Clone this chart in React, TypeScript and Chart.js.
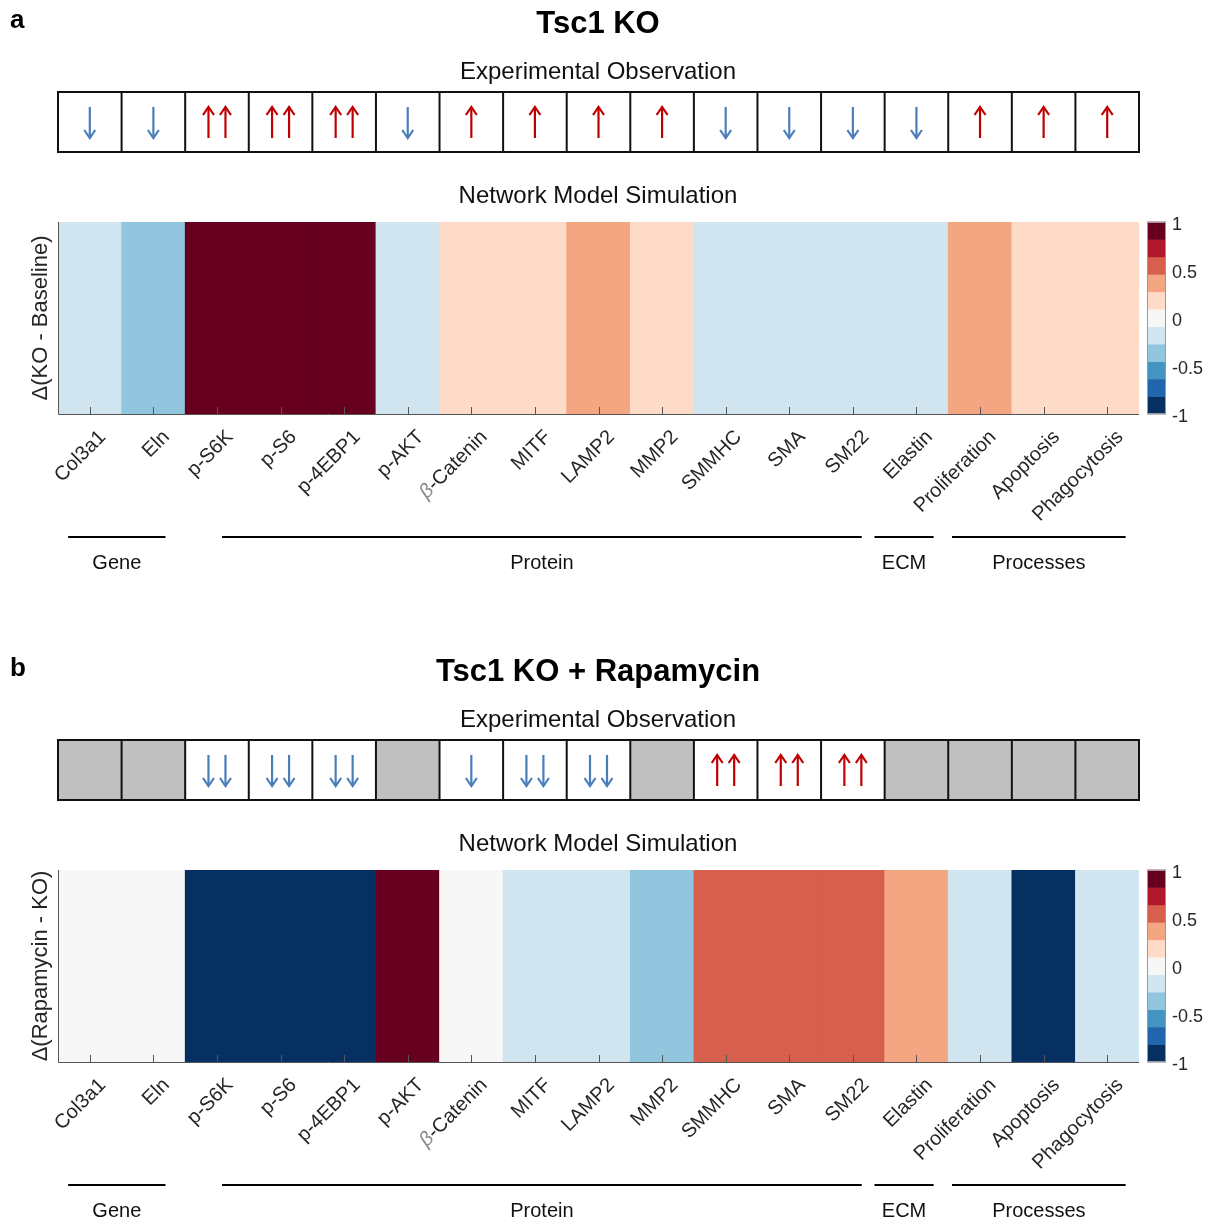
import React, { useEffect, useRef } from "react";
import { Chart, registerables } from "chart.js";

Chart.register(...registerables);

const CATEGORIES = [
  "Col3a1", "Eln", "p-S6K", "p-S6", "p-4EBP1", "p-AKT", "β-Catenin", "MITF", "LAMP2",
  "MMP2", "SMMHC", "SMA", "SM22", "Elastin", "Proliferation", "Apoptosis", "Phagocytosis",
];

// Network model simulation values (delta)
const KO_VALUES = [-0.2, -0.4, 1, 1, 1, -0.2, 0.2, 0.2, 0.4, 0.2, -0.2, -0.2, -0.2, -0.2, 0.4, 0.2, 0.2];
const RAPA_VALUES = [0, 0, -1, -1, -1, 1, 0, -0.2, -0.2, -0.4, 0.6, 0.6, 0.6, 0.4, -0.2, -1, -0.2];

// Experimental observation: 2 = ↑↑, 1 = ↑, -1 = ↓, -2 = ↓↓, null = not measured
const KO_OBS: (number | null)[] = [-1, -1, 2, 2, 2, -1, 1, 1, 1, 1, -1, -1, -1, -1, 1, 1, 1];
const RAPA_OBS: (number | null)[] = [null, null, -2, -2, -2, null, -1, -2, -2, null, 2, 2, 2, null, null, null, null];

// RdBu 11-level colormap from -1 to 1
const COLORMAP = [
  "#053061", "#2166ac", "#4393c3", "#92c5de", "#d1e5f0", "#f7f7f7",
  "#fddbc7", "#f4a582", "#d6604d", "#b2182b", "#67001f",
];
const COLORBAR_TICKS = [1, 0.5, 0, -0.5, -1];
const COLORBAR_TICK_LABELS = ["1", "0.5", "0", "-0.5", "-1"];

// Category groups (spans in category-index units)
const GROUP_LABELS = ["Gene", "Protein", "ECM", "Processes"];
const GROUP_FROM = [0.16, 2.58, 12.84, 14.06];
const GROUP_TO = [1.69, 12.64, 13.77, 16.79];

const FONT = "'Liberation Sans', Arial, Helvetica, sans-serif";
const UP_COLOR = "#c00000";
const DOWN_COLOR = "#4a7ebb";

function colorFor(v: number) {
  const idx = Math.min(10, Math.max(0, Math.floor(((v + 1) / 2) * 11 + 1e-9)));
  return COLORMAP[idx];
}

function drawArrow(ctx: CanvasRenderingContext2D, x: number, yTop: number, yBot: number, up: boolean, color: string) {
  ctx.save();
  ctx.strokeStyle = color;
  ctx.lineWidth = 2.2;
  ctx.lineCap = "butt";
  ctx.beginPath();
  ctx.moveTo(x, yTop);
  ctx.lineTo(x, yBot);
  ctx.stroke();
  const tip = up ? yTop : yBot;
  const dir = up ? 1 : -1;
  ctx.beginPath();
  ctx.moveTo(x - 5.5, tip + dir * 8);
  ctx.lineTo(x, tip);
  ctx.lineTo(x + 5.5, tip + dir * 8);
  ctx.stroke();
  ctx.restore();
}

type PanelProps = {
  letter: string;
  title: string;
  yLabel: string;
  values: number[];
  obs: (number | null)[];
  top: number;
};

function Panel({ letter, title, yLabel, values, obs, top }: PanelProps) {
  const ref = useRef<HTMLCanvasElement | null>(null);

  useEffect(() => {
    if (!ref.current) return;
    const decor = {
      id: "decor",
      afterDraw(chart: any) {
        const ctx: CanvasRenderingContext2D = chart.ctx;
        const area = chart.chartArea;
        const xs = chart.scales.x;
        const n = CATEGORIES.length;
        const w = (area.right - area.left) / n;
        const cx = (i: number) => xs.getPixelForValue(i);
        const midX = 598;

        ctx.save();
        // Panel letter
        ctx.fillStyle = "#000";
        ctx.font = `bold 26px ${FONT}`;
        ctx.textAlign = "left";
        ctx.textBaseline = "alphabetic";
        ctx.fillText(letter, 10, 28);
        // Title
        ctx.font = `bold 31px ${FONT}`;
        ctx.textAlign = "center";
        ctx.fillText(title, midX, 33);
        // Subtitles
        ctx.font = `24px ${FONT}`;
        ctx.fillStyle = "#111";
        ctx.fillText("Experimental Observation", midX, 79);
        ctx.fillText("Network Model Simulation", midX, 203);

        // Observation boxes
        const bTop = 92, bBot = 152;
        for (let i = 0; i < n; i++) {
          const x0 = cx(i) - w / 2;
          if (obs[i] === null) {
            ctx.fillStyle = "#c0c0c0";
            ctx.fillRect(x0, bTop, w, bBot - bTop);
          }
        }
        ctx.strokeStyle = "#111";
        ctx.lineWidth = 2;
        ctx.strokeRect(area.left, bTop, area.right - area.left, bBot - bTop);
        for (let i = 1; i < n; i++) {
          const x = cx(i) - w / 2;
          ctx.beginPath();
          ctx.moveTo(x, bTop);
          ctx.lineTo(x, bBot);
          ctx.stroke();
        }
        for (let i = 0; i < n; i++) {
          const o = obs[i];
          if (o === null || o === 0) continue;
          const up = o > 0;
          const color = up ? UP_COLOR : DOWN_COLOR;
          const count = Math.abs(o);
          const offsets = count === 2 ? [-8.5, 8.5] : [0];
          for (const off of offsets) drawArrow(ctx, cx(i) + off, 107, 138, up, color);
        }

        // Axis lines and inner ticks
        ctx.strokeStyle = "#555";
        ctx.lineWidth = 1;
        ctx.beginPath();
        ctx.moveTo(area.left + 0.5, area.top);
        ctx.lineTo(area.left + 0.5, area.bottom + 0.5);
        ctx.lineTo(area.right, area.bottom + 0.5);
        ctx.stroke();
        for (let i = 0; i < n; i++) {
          const x = Math.round(cx(i)) + 0.5;
          ctx.beginPath();
          ctx.moveTo(x, area.bottom);
          ctx.lineTo(x, area.bottom - 7);
          ctx.stroke();
        }

        // X tick labels
        ctx.font = `20px ${FONT}`;
        for (let i = 0; i < n; i++) {
          ctx.save();
          ctx.translate(cx(i) + 13, area.bottom + 20);
          ctx.rotate(-Math.PI / 4);
          ctx.textAlign = "right";
          ctx.textBaseline = "middle";
          const label = CATEGORIES[i];
          if (label.startsWith("β")) {
            const rest = label.slice(1);
            ctx.fillStyle = "#262626";
            ctx.fillText(rest, 0, 0);
            const rw = ctx.measureText(rest).width;
            ctx.font = `italic 20px ${FONT}`;
            ctx.fillStyle = "#8a8a8a";
            ctx.fillText("β", -rw, 0);
            ctx.font = `20px ${FONT}`;
          } else {
            ctx.fillStyle = "#262626";
            ctx.fillText(label, 0, 0);
          }
          ctx.restore();
        }

        // Y label
        ctx.save();
        ctx.translate(41, (area.top + area.bottom) / 2);
        ctx.rotate(-Math.PI / 2);
        ctx.textAlign = "center";
        ctx.textBaseline = "middle";
        ctx.fillStyle = "#262626";
        ctx.font = `22px ${FONT}`;
        ctx.fillText(yLabel, 0, 0);
        ctx.restore();

        // Colorbar
        const cbL = 1147, cbR = 1166;
        const cbT = area.top, cbB = area.bottom;
        const segH = (cbB - cbT) / COLORMAP.length;
        for (let k = 0; k < COLORMAP.length; k++) {
          ctx.fillStyle = COLORMAP[k];
          ctx.fillRect(cbL, cbB - (k + 1) * segH - 0.3, cbR - cbL, segH + 0.6);
        }
        ctx.strokeStyle = "#999";
        ctx.lineWidth = 1;
        ctx.strokeRect(cbL + 0.5, cbT + 0.5, cbR - cbL - 1, cbB - cbT - 1);
        ctx.fillStyle = "#262626";
        ctx.font = `18px ${FONT}`;
        ctx.textAlign = "left";
        ctx.textBaseline = "middle";
        COLORBAR_TICKS.forEach((t, k) => {
          const y = cbB - ((t + 1) / 2) * (cbB - cbT);
          ctx.fillText(COLORBAR_TICK_LABELS[k], 1172, y + 3);
        });

        // Group lines and labels
        const gy = 537;
        ctx.strokeStyle = "#000";
        ctx.lineWidth = 2;
        ctx.fillStyle = "#111";
        ctx.font = `20px ${FONT}`;
        ctx.textAlign = "center";
        ctx.textBaseline = "middle";
        const toPx = (u: number) => area.left + u * w;
        GROUP_LABELS.forEach((g, k) => {
          const x0 = toPx(GROUP_FROM[k]);
          const x1 = toPx(GROUP_TO[k]);
          ctx.beginPath();
          ctx.moveTo(x0, gy);
          ctx.lineTo(x1, gy);
          ctx.stroke();
          ctx.fillText(g, (x0 + x1) / 2, 563);
        });
        ctx.restore();
      },
    };

    const chart = new Chart(ref.current, {
      type: "bar",
      data: {
        labels: CATEGORIES,
        datasets: [
          {
            data: values.map(() => 1),
            backgroundColor: values.map(colorFor),
            borderWidth: 0,
            barPercentage: 1,
            categoryPercentage: 1,
          },
        ],
      },
      options: {
        responsive: false,
        animation: false,
        events: [],
        layout: { padding: { left: 58, right: 81, top: 222, bottom: 162 } },
        plugins: { legend: { display: false }, tooltip: { enabled: false }, title: { display: false } },
        scales: {
          x: { display: false, offset: true, grid: { display: false } },
          y: { display: false, min: 0, max: 1 },
        },
      },
      plugins: [decor],
    });
    return () => chart.destroy();
  }, [letter, title, yLabel, values, obs]);

  return (
    <canvas
      ref={ref}
      width={1220}
      height={576}
      style={{ position: "absolute", left: 0, top, width: 1220, height: 576 }}
    />
  );
}

export default function App() {
  return (
    <div style={{ position: "absolute", left: 0, top: 0, width: 1220, height: 1224, background: "#fff" }}>
      <Panel letter="a" title="Tsc1 KO" yLabel="Δ(KO - Baseline)" values={KO_VALUES} obs={KO_OBS} top={0} />
      <Panel letter="b" title="Tsc1 KO + Rapamycin" yLabel="Δ(Rapamycin - KO)" values={RAPA_VALUES} obs={RAPA_OBS} top={648} />
    </div>
  );
}
